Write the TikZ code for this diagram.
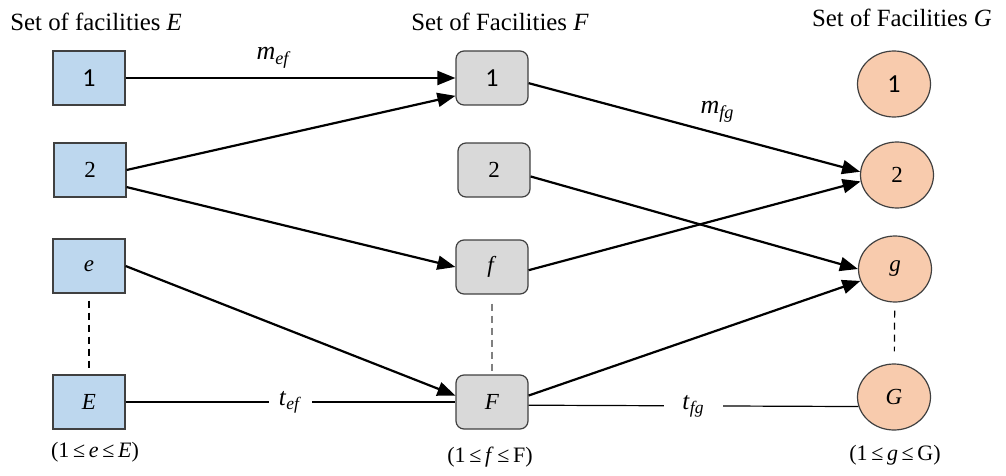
\documentclass[tikz,border=0pt]{standalone}
\usepackage{fontspec}
\setmainfont{Liberation Serif}
\newfontfamily\calib{Carlito}
\usetikzlibrary{arrows.meta,shapes.geometric}
\definecolor{eblue}{RGB}{189,215,238}
\definecolor{fgray}{RGB}{217,217,217}
\definecolor{gpeach}{RGB}{248,203,173}
\definecolor{edgegray}{RGB}{64,64,64}

\begin{document}
\begin{tikzpicture}[x=0.5pt,y=-0.5pt,
    ebox/.style={draw=edgegray,line width=0.6pt,fill=eblue,minimum width=36pt,minimum height=27pt,inner sep=0pt,font=\fontsize{11.5}{13}\selectfont},
    fbox/.style={ebox,fill=fgray,rounded corners=4pt},
    gnode/.style={ebox,ellipse,fill=gpeach,minimum width=36.5pt,minimum height=33pt},
    flow/.style={line width=1.1pt,-{Triangle[length=9pt,width=7pt]}},
    link/.style={line width=0.6pt},
    dots/.style={dash pattern=on 3.5pt off 2.5pt,line width=0.6pt},
    title/.style={inner sep=0pt,font=\fontsize{12.4}{15}\selectfont},
    rangelbl/.style={inner sep=0pt,font=\fontsize{11}{13}\selectfont}]
    \useasboundingbox (0,0) rectangle (1006,476);
    % titles
    \node[title,anchor=west] (tE) at (10,22) {Set of facilities \textit{E}};
    \node[title] (tF) at (500,22) {Set of Facilities \textit{F}};
    \node[title] (tG) at (902,18) {Set of Facilities \textit{G}};
    % facilities E
    \node[ebox] (E1) at (89,78) {\calib\fontsize{13}{15}\selectfont 1};
    \node[ebox] (E2) at (90,170) {2};
    \node[ebox] (Ee) at (89,266) {\textit{e}};
    \node[ebox] (EE) at (89,402) {\textit{E}};
    % facilities F
    \node[fbox] (F1) at (492,78) {\calib\fontsize{13}{15}\selectfont 1};
    \node[fbox] (F2) at (494,170) {2};
    \node[fbox] (Ff) at (492,267) {\textit{f}};
    \node[fbox] (FF) at (492,402) {\textit{F}};
    % facilities G
    \node[gnode] (G1) at (894,84) {\calib\fontsize{13}{15}\selectfont 1};
    \node[gnode] (G2) at (897,175) {2};
    \node[gnode] (Gg) at (895,269) {\textit{g}};
    \node[gnode] (GG) at (894,397) {\textit{G}};
    % ranges
    \node[rangelbl] (rE) at (95,452) {(1\,≤\,\textit{e}\,≤\,\textit{E})};
    \node[rangelbl] (rF) at (490,457) {(1\,≤\,\textit{f}\,≤\,F)};
    \node[rangelbl] (rG) at (895,455) {(1\,≤\,\textit{g}\,≤\,G)};
    % dotted columns
    \draw[dots,shorten <=3.5pt,shorten >=3pt] (Ee) -- (EE);
    \draw[dots,gray,shorten <=4.5pt,shorten >=1.5pt] (Ff) -- (FF);
    \draw[dots,shorten <=4pt,shorten >=6pt] (Gg) -- (GG);
    % flows E -> F
    \draw[flow] (E1) -- node[pos=0.45,above=1pt,font=\fontsize{13}{15}\selectfont] (mef) {\textit{m}\textsubscript{\textit{ef}}} (F1);
    \draw[flow] (E2.east) -- (F1.206);
    \draw[flow] (E2.-25) -- (Ff.west);
    \draw[flow] (Ee.east) -- (FF.170);
    % flows F -> G
    \draw[flow] (F1.-8) -- node[pos=0.57,above=2pt,font=\fontsize{13}{15}\selectfont] (mfg) {\textit{m}\textsubscript{\textit{fg}}} (G2.175);
    \draw[flow] (F2.-10) -- (Gg.west);
    \draw[flow] (Ff.-5) -- (G2.190);
    \draw[flow] (FF.10) -- (Gg.199);
    % transport links
    \draw[link] (EE.east) -- node[pos=0.5,fill=white,inner xsep=5pt,font=\fontsize{12.5}{14}\selectfont] (tef) {\textit{t}\textsubscript{\textit{ef}}} (FF.west);
    \draw[link] (FF.-5) -- node[pos=0.5,fill=white,inner xsep=9pt,font=\fontsize{12.5}{14}\selectfont] (tfg) {\textit{t}\textsubscript{\textit{fg}}} (GG.195);
\end{tikzpicture}
\end{document}
